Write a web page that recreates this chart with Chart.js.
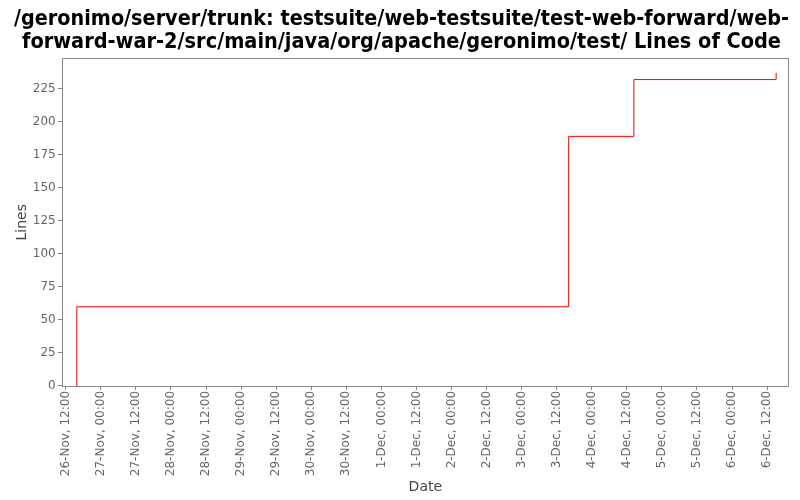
<!DOCTYPE html>
<html><head><meta charset="utf-8">
<script src="https://cdn.jsdelivr.net/npm/chart.js@4/dist/chart.umd.min.js"></script>
<style>html,body{margin:0;padding:0;background:#fff}canvas{display:block}</style>
</head><body>
<canvas id="c" width="800" height="500"></canvas>
<script>
// x values: hours since 26-Nov 00:00
const dateHours = [15.77, 15.77, 184.1, 206.4, 255.1];
const lines = [0, 60, 189, 232, 237];
const xTickHours = [12,24,36,48,60,72,84,96,108,120,132,144,156,168,180,192,204,216,228,240,252];
const dayLabels = ['26-Nov','27-Nov','28-Nov','29-Nov','30-Nov','1-Dec','2-Dec','3-Dec','4-Dec','5-Dec','6-Dec'];
const yTicks = [0,25,50,75,100,125,150,175,200,225];
const titleLines = ['/geronimo/server/trunk: testsuite/web-testsuite/test-web-forward/web-','forward-war-2/src/main/java/org/apache/geronimo/test/ Lines of Code'];

function fmtHour(h){
  const d = Math.floor(h/24), r = h - d*24;
  return dayLabels[d] + ', ' + (r < 10 ? '0' : '') + r + ':00';
}
const frame = {
  id:'frame',
  afterDraw(chart){
    const a = chart.chartArea, c = chart.ctx;
    c.save(); c.strokeStyle = '#888'; c.lineWidth = 1;
    const l = Math.round(a.left), t = Math.round(a.top), r = Math.round(a.right), b = Math.round(a.bottom);
    c.strokeRect(l+0.5, t+0.5, r-l-1, b-t);
    c.restore();
  }
};
const pts = dateHours.map((x,i)=>({x, y: lines[i]}));
new Chart(document.getElementById('c'), {
  type:'line',
  data:{datasets:[{data:pts, borderColor:'#ff0000', borderWidth:1, pointRadius:0, stepped:'before', fill:false}]},
  options:{
    responsive:false, animation:false, devicePixelRatio:1,
    layout:{padding:{left:14,right:11,top:0,bottom:0}},
    plugins:{
      legend:{display:false}, tooltip:{enabled:false},
      title:{display:true, text:titleLines, color:'#000', font:{family:'DejaVu Sans Condensed', weight:'bold', size:21.5, lineHeight:1.08}, padding:{top:8,bottom:4}}
    },
    scales:{
      x:{type:'linear', min:10.6, max:259.5,
        afterBuildTicks(s){ s.ticks = xTickHours.map(v=>({value:v})); },
        ticks:{callback:(v)=>fmtHour(v), maxRotation:90, minRotation:90, autoSkip:false, color:'#666', font:{family:'DejaVu Sans', size:12}, padding:1},
        grid:{display:true, drawOnChartArea:false, drawTicks:true, tickLength:4, color:'#888'},
        border:{display:false},
        title:{display:true, text:'Date', color:'#444', font:{family:'DejaVu Sans', size:14}, padding:{top:2,bottom:4}}
      },
      y:{type:'linear', min:0, max:248,
        afterBuildTicks(s){ s.ticks = yTicks.map(v=>({value:v})); },
        ticks:{color:'#666', font:{family:'DejaVu Sans', size:12}, padding:2},
        grid:{display:true, drawOnChartArea:false, drawTicks:true, tickLength:4, color:'#888'},
        border:{display:false},
        title:{display:true, text:'Lines', color:'#444', font:{family:'DejaVu Sans', size:14}, padding:{top:0,bottom:0}}
      }
    }
  },
  plugins:[frame]
});
</script>
</body></html>
